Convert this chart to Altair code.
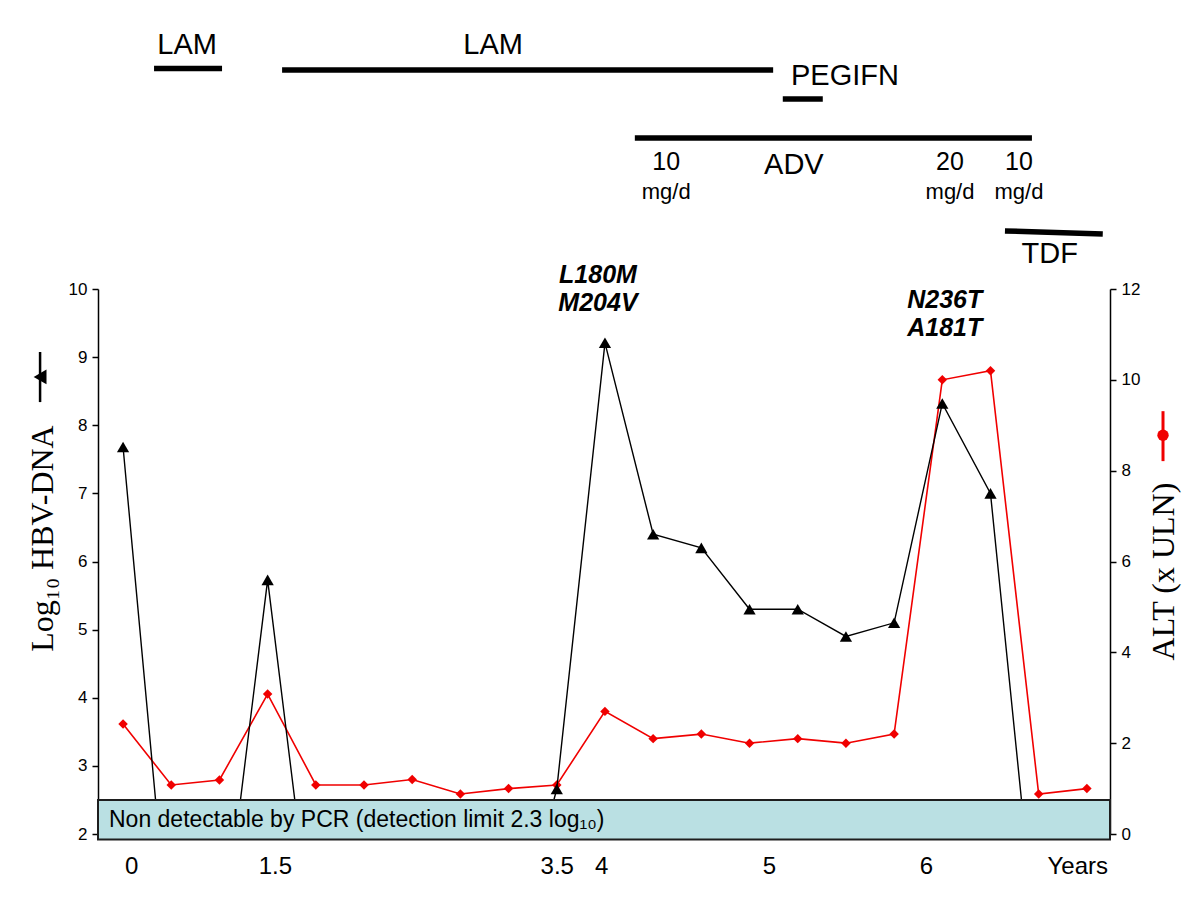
import altair as alt
import pandas as pd

# ---------------- data ----------------
# equally spaced visits (index along the time axis)
visit = list(range(21))
# log10 HBV-DNA; 0 = not detectable (below the 2.3 log10 detection band)
hbv_dna = [7.68, 0, 0, 5.73, 0, 0, 0, 0, 0, 2.66, 9.21, 6.4, 6.2, 5.3, 5.3, 4.9, 5.1, 8.32, 7.0, 0, 0]
# ALT (x ULN)
alt_uln = [2.42, 1.08, 1.19, 3.08, 1.08, 1.08, 1.2, 0.88, 1.0, 1.08, 2.7, 2.1, 2.2, 2.0, 2.1, 2.0, 2.2, 10.0, 10.2, 0.88, 1.0]

# x-axis tick labels (placed along the visit index)
xtick_labels = ["0", "1.5", "3.5", "4", "5", "6", "Years"]
xtick_pos = [0.17, 3.15, 9.0, 9.92, 13.4, 16.66, 19.8]

# treatment periods (visit index) and their row level (drawn above the plot, in left-axis units)
treat_start = [0.643, 3.30, 13.69, 10.62, 18.30]
treat_end = [2.054, 13.49, 14.52, 18.86, 20.33]
treat_level = [13.238, 13.216, 12.79, 12.217, 10.852]
treat_level_end = [13.238, 13.216, 12.79, 12.217, 10.808]

treat_names = ["LAM", "LAM", "PEGIFN", "ADV", "TDF"]
treat_name_x = [1.33, 7.68, 14.98, 13.92, 19.23]
treat_name_level = [13.58, 13.58, 13.13, 11.82, 10.514]

dose_values = ["10", "20", "10"]
dose_x = [11.27, 17.16, 18.59]
dose_level = [11.865, 11.865, 11.865]
dose_unit = ["mg/d", "mg/d", "mg/d"]
dose_unit_level = [11.42, 11.42, 11.42]

mutations = ["L180M", "M204V", "N236T", "A181T"]
mutation_x = [9.855, 9.855, 17.05, 17.05]
mutation_level = [10.21, 9.80, 9.84, 9.43]

band_text = "Non detectable by PCR (detection limit 2.3 log\u2081\u2080)"
band_low, band_high = 1.92, 2.5

X_DOMAIN = [-0.52, 20.48]
Y_LEFT = [2, 10]
Y_RIGHT = [0, 12]

FONT = "Liberation Sans"
SERIF = "Liberation Serif, DejaVu Serif"
RED = "#f00000"

# ---------------- tables ----------------
df = pd.DataFrame({"visit": visit, "hbv": hbv_dna, "alt": alt_uln})
bars = pd.DataFrame({"x": treat_start, "x2": treat_end, "hbv": treat_level, "hbv2": treat_level_end})
names = pd.DataFrame({"x": treat_name_x, "hbv": treat_name_level, "t": treat_names})
doses = pd.DataFrame({"x": dose_x, "hbv": dose_level, "t": dose_values})
units = pd.DataFrame({"x": dose_x, "hbv": dose_unit_level, "t": dose_unit})
muts = pd.DataFrame({"x": mutation_x, "hbv": mutation_level, "t": mutations})
band = pd.DataFrame({"x": [X_DOMAIN[0]], "x2": [X_DOMAIN[1]], "hbv": [band_low], "hbv2": [band_high],
                     "mid": [(band_low + band_high) / 2], "t": [band_text]})
glyph_left = pd.DataFrame({"x": [-1.722], "hbv": [8.71], "lo": [8.34], "hi": [9.075]})
glyph_right = pd.DataFrame({"x": [21.58], "alt": [8.78], "lo": [8.21], "hi": [9.31]})

xscale = alt.Scale(domain=X_DOMAIN, nice=False, zero=False)
lscale = alt.Scale(domain=Y_LEFT, nice=False, zero=False)
rscale = alt.Scale(domain=Y_RIGHT, nice=False, zero=False)

label_expr = "{}[indexof({}, datum.value)]".format(
    "[" + ",".join("'%s'" % s for s in xtick_labels) + "]",
    "[" + ",".join(str(v) for v in xtick_pos) + "]",
)

x_axis = alt.Axis(values=xtick_pos, labelExpr=label_expr, domain=False, ticks=False,
                  labelFont=FONT, labelFontSize=24, labelPadding=20, labelFlush=False,
                  labelOverlap=False, title=None, grid=False, labelColor="black")
left_axis = alt.Axis(values=list(range(2, 11)), title="Log\u2081\u2080 HBV-DNA",
                     titleFont=SERIF, titleFontSize=32, titleFontWeight="normal",
                     titleAngle=270, titleX=-56, titleY=249, titleBaseline="middle",
                     titleAlign="center", labelPadding=5, labelFont=FONT, labelFontSize=17,
                     labelColor="black", tickSize=6, tickWidth=1.5, domainWidth=1.5,
                     domainColor="black", tickColor="black", grid=False)
right_axis = alt.Axis(values=list(range(0, 13, 2)), orient="right", title="ALT (x ULN)",
                      titleFont=SERIF, titleFontSize=32, titleFontWeight="normal",
                      titleAngle=270, titleX=53, titleY=282, titleBaseline="middle",
                      titleAlign="center", labelPadding=5, labelFont=FONT, labelFontSize=17,
                      labelColor="black", tickSize=6, tickWidth=1.5, domainWidth=1.5,
                      domainColor="black", tickColor="black", grid=False)


def X(f="x"):
    return alt.X(f"{f}:Q", scale=xscale, axis=x_axis)


def YL(f="hbv"):
    return alt.Y(f"{f}:Q", scale=lscale, axis=left_axis)


def YR(f="alt"):
    return alt.Y(f"{f}:Q", scale=rscale, axis=right_axis)


# ---------------- left-axis layers ----------------
hbv_line = alt.Chart(df).mark_line(color="black", strokeWidth=1.4, clip=True).encode(
    x=X("visit"), y=YL())
hbv_pts = alt.Chart(df).mark_point(shape="triangle-up", filled=True, color="black", size=150,
                                   opacity=1, clip=True).encode(x=X("visit"), y=YL())
band_rect = alt.Chart(band).mark_rect(fill="#bae0e3", stroke="#1e1e1e", strokeWidth=2, clip=False).encode(
    x=X(), x2="x2:Q", y=YL(), y2="hbv2:Q")
band_label = alt.Chart(band).mark_text(align="left", baseline="middle", dx=11, font=FONT,
                                       fontSize=23, color="black", clip=False).encode(
    x=X(), y=YL("mid"), text="t:N")

treat_bars = alt.Chart(bars).mark_rule(color="black", strokeWidth=5.5, strokeCap="butt", clip=False).encode(
    x=X(), x2="x2:Q", y=YL(), y2="hbv2:Q")
treat_text = alt.Chart(names).mark_text(font=FONT, fontSize=29, color="black", baseline="middle",
                                        clip=False).encode(x=X(), y=YL(), text="t:N")
dose_text = alt.Chart(doses).mark_text(font=FONT, fontSize=25, color="black", baseline="middle",
                                       clip=False).encode(x=X(), y=YL(), text="t:N")
unit_text = alt.Chart(units).mark_text(font=FONT, fontSize=22, color="black", baseline="middle",
                                       clip=False).encode(x=X(), y=YL(), text="t:N")
mut_text = alt.Chart(muts).mark_text(font=FONT, fontSize=25, fontWeight="bold", fontStyle="italic",
                                     color="black", baseline="middle", clip=False).encode(
    x=X(), y=YL(), text="t:N")
gl_rule = alt.Chart(glyph_left).mark_rule(color="black", strokeWidth=2.5, clip=False).encode(
    x=X(), y=YL("lo"), y2="hi:Q")
gl_pt = alt.Chart(glyph_left).mark_point(shape="triangle-left", filled=True, color="black", size=220,
                                         opacity=1, clip=False).encode(x=X(), y=YL())

left_layers = alt.layer(hbv_line, hbv_pts, band_rect, band_label, treat_bars, treat_text,
                        dose_text, unit_text, mut_text, gl_rule, gl_pt)

# ---------------- right-axis layers ----------------
alt_line = alt.Chart(df).mark_line(color=RED, strokeWidth=1.6, clip=True).encode(
    x=X("visit"), y=YR())
alt_pts = alt.Chart(df).mark_point(shape="diamond", filled=True, color=RED, size=90, opacity=1,
                                   clip=True).encode(x=X("visit"), y=YR())
gr_rule = alt.Chart(glyph_right).mark_rule(color=RED, strokeWidth=3, clip=False).encode(
    x=X(), y=YR("lo"), y2="hi:Q")
gr_pt = alt.Chart(glyph_right).mark_point(shape="circle", filled=True, color=RED, size=130,
                                          opacity=1, clip=False).encode(x=X(), y=YR())
right_layers = alt.layer(alt_line, alt_pts, gr_rule, gr_pt)

chart = alt.layer(right_layers, left_layers).resolve_scale(y="independent").properties(
    width=1012, height=545,
    autosize=alt.AutoSizeParams(type="none"),
    padding={"left": 90, "top": 281, "right": 82, "bottom": 60},
).configure_view(stroke=None)

chart.save("out.html", embed_options={"renderer": "svg", "actions": False})
